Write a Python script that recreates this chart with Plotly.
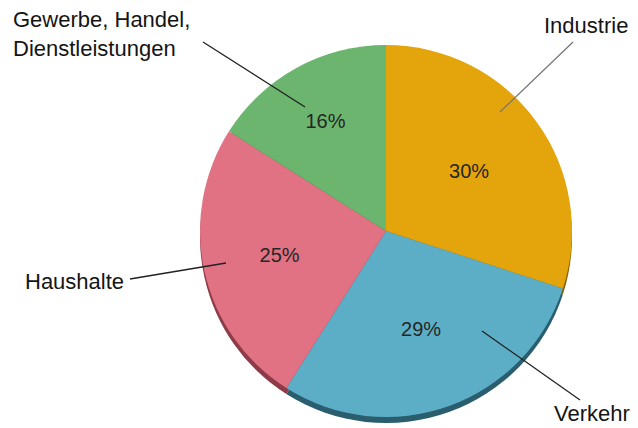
import plotly.graph_objects as go

categories = ["Industrie", "Verkehr", "Haushalte", "Gewerbe, Handel,<br>Dienstleistungen"]
values = [30, 29, 25, 16]
colors = ["#E4A40B", "#5CAEC7", "#E07283", "#6BB56F"]
shadow_colors = ["#8A6206", "#2A5E6E", "#8E3A47", "#3E7341"]

W, H = 638, 428
cx, cy, r = 386, 231, 186
shift = 6

def dom(cx, cy, r):
    return dict(x=[(cx - r) / W, (cx + r) / W],
                y=[(H - cy - r) / H, (H - cy + r) / H])

fig = go.Figure()
fig.add_trace(go.Pie(
    values=values, labels=categories, sort=False, direction="clockwise", rotation=0,
    marker=dict(colors=shadow_colors, line=dict(width=0)),
    textinfo="none", hoverinfo="skip", showlegend=False,
    domain=dom(cx, cy + shift, r)))
fig.add_trace(go.Pie(
    values=values, labels=categories, sort=False, direction="clockwise", rotation=0,
    marker=dict(colors=colors, line=dict(width=0)),
    textinfo="percent", textposition="inside", insidetextorientation="horizontal",
    texttemplate="%{percent:.0%}",
    textfont=dict(family="Liberation Sans, Arial", size=20, color="#262626"),
    showlegend=False,
    domain=dom(cx, cy, r)))

font = dict(family="Liberation Sans, Arial", size=22, color="#141414")
labels_pos = [
    (categories[0], 586, 26, "center"),
    (categories[1], 592, 413, "center"),
    (categories[2], 74, 281, "center"),
    (categories[3], 11, 34, "left"),
]
for txt, tx, ty, anc in labels_pos:
    fig.add_annotation(x=tx / W, y=1 - ty / H, xref="paper", yref="paper",
                       text=txt, showarrow=False, font=font, xanchor=anc, yanchor="middle",
                       align="left")
lines = [
    (573, 42, 500, 112, "#777777"),
    (580, 400, 482, 331, "#222222"),
    (130, 279, 226, 263, "#222222"),
    (203, 42, 305, 107, "#222222"),
]
for x0, y0, x1, y1, c in lines:
    fig.add_shape(type="line", xref="paper", yref="paper",
                  x0=x0 / W, y0=1 - y0 / H, x1=x1 / W, y1=1 - y1 / H,
                  line=dict(color=c, width=1.3))

fig.update_layout(width=W, height=H, margin=dict(l=0, r=0, t=0, b=0),
                  paper_bgcolor="white", plot_bgcolor="white")
fig.write_html("out.html", config={"displayModeBar": False},
               post_script="document.body.style.margin='0px';document.body.style.overflow='hidden';")
